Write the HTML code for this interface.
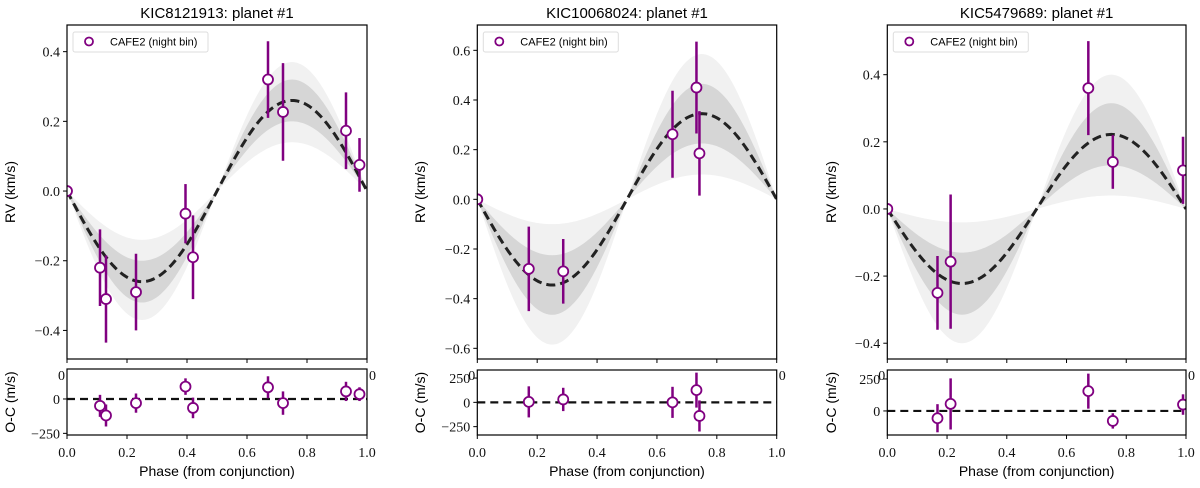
<!DOCTYPE html>
<html><head><meta charset="utf-8"><style>
body{margin:0;background:#fff}
svg text{font-family:"Liberation Sans",sans-serif}
.tk{font-family:"Liberation Serif",serif;font-size:14px;fill:#111}
</style></head><body>
<svg id="fig" width="1200" height="483" xmlns="http://www.w3.org/2000/svg"></svg>
<script>
const titles=["KIC8121913: planet #1","KIC10068024: planet #1","KIC5479689: planet #1"];
const phase1=[0,0.11,0.13,0.23,0.395,0.42,0.67,0.72,0.93,0.975];
const rv1=[0,-0.22,-0.31,-0.29,-0.065,-0.19,0.32,0.227,0.173,0.075];
const rvErr1=[0,0.11,0.125,0.11,0.085,0.12,0.11,0.14,0.11,0.077];
const res1=[0,-50,-120,-30,90,-65,85,-30,55,35];
const resErr1=[0,80,80,70,60,75,80,85,70,50];
const phase2=[0,0.172,0.287,0.652,0.732,0.742];
const rv2=[0,-0.28,-0.29,0.262,0.45,0.185];
const rvErr2=[0,0.17,0.13,0.175,0.185,0.17];
const res2=[0,5,30,0,126,-140];
const resErr2=[0,160,120,160,180,160];
const phase3=[0,0.168,0.212,0.673,0.755,0.99];
const rv3=[0,-0.25,-0.157,0.36,0.14,0.115];
const rvErr3=[0,0.11,0.2,0.14,0.08,0.1];
const res3=[0,-57,55,155,-78,50];
const resErr3=[0,110,200,137,60,80];
const K=[0.26,0.345,0.222];
const Kinner=[[0.2,0.32],[0.225,0.465],[0.13,0.315]];
const Kouter=[[0.14,0.37],[0.1,0.585],[0.04,0.4]];
const yTicks=[[-0.4,-0.2,0,0.2,0.4],[-0.6,-0.4,-0.2,0,0.2,0.4,0.6],[-0.4,-0.2,0,0.2,0.4]];
const rTicks=[[-250,0],[-250,0,250],[0,250]];
const xTicks=[0,0.2,0.4,0.6,0.8,1.0];
const yRange=[[-0.482,0.4765],[-0.643,0.702],[-0.447,0.548]];
const rRange=[[-262,218],[-336,333],[-188,320]];

const phases=[phase1,phase2,phase3],rvs=[rv1,rv2,rv3],rvErrs=[rvErr1,rvErr2,rvErr3],ress=[res1,res2,res3],resErrs=[resErr1,resErr2,resErr3];
const lefts=[67,477.3,887.3],rights=[367,776.7,1186];
const ylabX=[15,425,836];
const NS="http://www.w3.org/2000/svg";
const svg=document.getElementById('fig');
function mk(tag,attrs,parent){const e=document.createElementNS(NS,tag);for(const k in attrs)e.setAttribute(k,attrs[k]);(parent||svg).appendChild(e);return e;}
const fmt=v=>(v<0?"\u2212":"")+Math.abs(v).toFixed(1);
const defs=mk('defs',{});
for(let p=0;p<3;p++){
  const L=lefts[p],R=rights[p],T=25,B=359,RT=p==0?369:370,RB=435;
  const X=v=>L+(R-L)*v;
  const Y=v=>B-(v-yRange[p][0])/(yRange[p][1]-yRange[p][0])*(B-T);
  const YR=v=>RB-(v-rRange[p][0])/(rRange[p][1]-rRange[p][0])*(RB-RT);
  const g=mk('g',{});
  
  
  const cp=mk('clipPath',{id:'c'+p},defs);mk('rect',{x:L,y:T,width:R-L,height:B-T},cp);
  const cp2=mk('clipPath',{id:'r'+p},defs);mk('rect',{x:L,y:RT,width:R-L,height:RB-RT},cp2);
  const t=mk('text',{x:(L+R)/2,y:18,'text-anchor':'middle','font-size':'15'},g);t.textContent=titles[p];
  
  const main=mk('g',{'clip-path':'url(#c'+p+')'},g);
  function band(k){let d='';for(let i=0;i<=200;i++){const ph=i/200;d+=(i?'L':'M')+X(ph)+','+Y(-k[0]*Math.sin(2*Math.PI*ph));}
    for(let i=200;i>=0;i--){const ph=i/200;d+='L'+X(ph)+','+Y(-k[1]*Math.sin(2*Math.PI*ph));}return d+'Z';}
  const bo=mk('path',{d:band(Kouter[p]),fill:'#f1f1f1'},main);
  
  const bi=mk('path',{d:band(Kinner[p]),fill:'#d6d6d6'},main);
  
  let d='';for(let i=0;i<=200;i++){const ph=i/200;d+=(i?'L':'M')+X(ph)+','+Y(-K[p]*Math.sin(2*Math.PI*ph));}
  const ml=mk('path',{d:d,fill:'none',stroke:'#222',"stroke-width":3,"stroke-dasharray":"9,5"},main);
  
  const ph=phases[p];
  for(let i=0;i<ph.length;i++){
    if(rvErrs[p][i]>0){const eb=mk('line',{x1:X(ph[i]),x2:X(ph[i]),y1:Y(rvs[p][i]-rvErrs[p][i]),y2:Y(rvs[p][i]+rvErrs[p][i]),stroke:'#800080','stroke-width':2.5},main);
      }
    const c=mk('circle',{cx:X(ph[i]),cy:Y(rvs[p][i]),r:5,fill:'#fff',stroke:'#800080','stroke-width':1.8},main);
    
  }
  const fr=mk('rect',{x:L,y:T,width:R-L,height:B-T,fill:'none',stroke:'#000','stroke-width':1.2},g);
  
  for(const v of yTicks[p]){mk('line',{x1:L-4,x2:L,y1:Y(v),y2:Y(v),stroke:'#000'},g);
    const tt=mk('text',{x:L-7,y:Y(v)+5,'text-anchor':'end',class:'tk'},g);tt.textContent=fmt(v);
    }
  for(const v of xTicks){mk('line',{x1:X(v),x2:X(v),y1:B,y2:B+4,stroke:'#000'},g);}
  // hidden tick labels peeking
  let a=mk('text',{x:L-2,y:380,'text-anchor':'end',class:'tk'},g);a.textContent='0';
  a=mk('text',{x:R+2,y:380,'text-anchor':'start',class:'tk'},g);a.textContent='0';
  // legend
  const lg=mk('g',{},g);
  mk('rect',{x:L+6,y:32,width:135,height:20,rx:2,fill:'#fff',stroke:'#ddd'},lg);
  mk('line',{x1:L+22,x2:L+22,y1:38,y2:46,stroke:'#800080','stroke-width':2},lg);
  mk('circle',{cx:L+22,cy:41.5,r:4,fill:'#fff',stroke:'#800080','stroke-width':1.8},lg);
  const lt=mk('text',{x:L+43,y:45.5,'font-size':'11'},lg);lt.textContent='CAFE2 (night bin)';
  const yl=mk('text',{x:ylabX[p],y:(T+B)/2,'text-anchor':'middle','font-size':'14',transform:'rotate(-90 '+ylabX[p]+' '+(T+B)/2+')'},g);yl.textContent='RV (km/s)';
  
  // residuals
  const rg=mk('rect',{x:L,y:RT,width:R-L,height:RB-RT,fill:'#fff'},g);
  const res=mk('g',{'clip-path':'url(#r'+p+')'},g);
  mk('line',{x1:L,x2:R,y1:YR(0),y2:YR(0),stroke:'#111','stroke-width':2.2,'stroke-dasharray':'8,5'},res);
  for(let i=0;i<ph.length;i++){
    if(i==0)continue;
    const eb=mk('line',{x1:X(ph[i]),x2:X(ph[i]),y1:YR(ress[p][i]-resErrs[p][i]),y2:YR(ress[p][i]+resErrs[p][i]),stroke:'#800080','stroke-width':2.5},res);
    
    const c=mk('circle',{cx:X(ph[i]),cy:YR(ress[p][i]),r:5,fill:'#fff',stroke:'#800080','stroke-width':1.8},res);
    
  }
  const rf=mk('rect',{x:L,y:RT,width:R-L,height:RB-RT,fill:'none',stroke:'#000','stroke-width':1.2},g);
  
  for(const v of rTicks[p]){mk('line',{x1:L-4,x2:L,y1:YR(v),y2:YR(v),stroke:'#000'},g);
    const tt=mk('text',{x:L-7,y:YR(v)+5,'text-anchor':'end',class:'tk'},g);tt.textContent=(v<0?"\u2212":"")+Math.abs(v);
    }
  for(const v of xTicks){mk('line',{x1:X(v),x2:X(v),y1:RB,y2:RB+4,stroke:'#000'},g);
    const tt=mk('text',{x:X(v),y:457,'text-anchor':'middle',class:'tk'},g);tt.textContent=v.toFixed(1);
    }
  const ol=mk('text',{x:ylabX[p],y:(RT+RB)/2,'text-anchor':'middle','font-size':'14',transform:'rotate(-90 '+ylabX[p]+' '+(RT+RB)/2+')'},g);ol.textContent='O-C (m/s)';
  
  const xl=mk('text',{x:(L+R)/2,y:476,'text-anchor':'middle','font-size':'14'},g);xl.textContent='Phase (from conjunction)';
  
}
</script>
</body></html>
